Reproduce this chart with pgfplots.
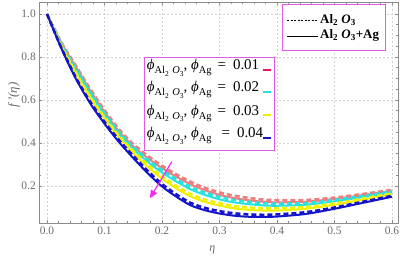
\documentclass[border=0pt]{standalone}
\usepackage{fontspec}
\setmainfont{Liberation Serif}
\usepackage{pgfplots}
\usepackage{pgfplotstable}
\pgfplotsset{compat=1.18}
\usetikzlibrary{arrows.meta}

\definecolor{cR}{RGB}{240,125,125}
\definecolor{cRm}{RGB}{230,20,100}
\definecolor{cC}{RGB}{40,225,225}
\definecolor{cY}{RGB}{240,240,0}
\definecolor{cB}{RGB}{20,20,200}
\definecolor{cM}{RGB}{225,90,225}
\definecolor{cA}{RGB}{245,40,245}
\definecolor{tgray}{RGB}{105,105,105}
\definecolor{fgray}{RGB}{140,140,140}

\pgfplotstableread{
x     r     rd    c     cd    y     yd    b     bd
0.000 1.000 1.000 1.000 1.000 1.000 1.000 1.000 1.000
0.025 0.865 0.868 0.859 0.862 0.851 0.854 0.840 0.843
0.050 0.755 0.760 0.742 0.747 0.723 0.728 0.700 0.705
0.075 0.645 0.652 0.631 0.638 0.610 0.617 0.585 0.592
0.100 0.545 0.553 0.532 0.540 0.513 0.521 0.490 0.498
0.125 0.455 0.464 0.443 0.452 0.426 0.435 0.405 0.414
0.150 0.385 0.395 0.372 0.382 0.353 0.363 0.330 0.340
0.175 0.330 0.341 0.313 0.324 0.289 0.300 0.260 0.271
0.200 0.283 0.294 0.263 0.274 0.234 0.245 0.198 0.209
0.225 0.243 0.254 0.221 0.232 0.189 0.200 0.150 0.161
0.250 0.208 0.219 0.184 0.195 0.151 0.162 0.110 0.121
0.275 0.180 0.191 0.158 0.169 0.126 0.137 0.087 0.098
0.300 0.159 0.170 0.138 0.149 0.109 0.120 0.072 0.083
0.325 0.144 0.155 0.124 0.135 0.096 0.107 0.062 0.073
0.350 0.134 0.145 0.116 0.127 0.089 0.100 0.057 0.068
0.375 0.127 0.137 0.110 0.120 0.086 0.096 0.056 0.066
0.400 0.124 0.134 0.108 0.118 0.086 0.096 0.058 0.068
0.450 0.127 0.135 0.113 0.121 0.094 0.102 0.070 0.078
0.500 0.140 0.146 0.129 0.135 0.113 0.119 0.094 0.100
0.550 0.158 0.163 0.149 0.154 0.137 0.142 0.122 0.127
0.600 0.178 0.182 0.171 0.175 0.162 0.166 0.150 0.154
}\data

\newcommand{\ssb}[1]{\raisebox{-0.25em}{\fontsize{7.5}{8}\selectfont #1}}
\newcommand{\lab}[2]{\textit{ϕ}\raisebox{-0.28em}{\fontsize{10.5}{11}\selectfont Al\ssb{2}\hspace{3.5bp}\textit{O}\ssb{3}}, \textit{ϕ}\raisebox{-0.28em}{\fontsize{10.5}{11}\selectfont Ag}\hspace{#2}=\hspace{7bp}#1}

\begin{document}
\begin{tikzpicture}
\path[use as bounding box] (-39.3bp,-35.7bp) rectangle (360.7bp,223.3bp);
\begin{axis}[
  name=ax,
  at={(0,0)}, anchor=south west,
  scale only axis, width=358.7bp, height=221.3bp,
  xmin=-0.0134, xmax=0.6104, ymin=0.0265, ymax=1.056,
  xtick={0,0.1,0.2,0.3,0.4,0.5,0.6},
  ytick={0.2,0.4,0.6,0.8,1.0},
  minor x tick num=4, minor y tick num=3,
  tick align=inside,
  major tick length=3bp, minor tick length=2bp,
  grid=major,
  grid style={dash pattern=on 2bp off 2bp, gray!35},
  axis line style={fgray, line width=0.8bp},
  tick style={fgray, line width=0.6bp},
  /pgf/number format/assume math mode=true,
  ticklabel style={font=\fontsize{11.5}{12}\selectfont, text=tgray},
  xticklabel style={/pgf/number format/.cd, fixed, fixed zerofill, precision=1},
  yticklabel style={/pgf/number format/.cd, fixed, fixed zerofill, precision=1},
  xlabel={\itshape η},
  xlabel style={font=\fontsize{12}{13}\selectfont, text=tgray, at={(axis description cs:0.4823,0)}, yshift=-19bp, anchor=north},
  ylabel={\itshape f\,'(η)},
  ylabel style={font=\fontsize{13}{14}\selectfont, text=tgray, at={(axis description cs:0,0.58)}, anchor=south, yshift=16bp},
  clip=false,
]
\addplot[cR, line width=2bp, smooth] table[x=x, y=r] {\data};
\addplot[cR, line width=2.6bp, smooth, dash pattern=on 5bp off 3bp] table[x=x, y=rd] {\data};
\addplot[cC, line width=2bp, smooth] table[x=x, y=c] {\data};
\addplot[cC, line width=2.6bp, smooth, dash pattern=on 5bp off 3bp] table[x=x, y=cd] {\data};
\addplot[cY, line width=2bp, smooth] table[x=x, y=y] {\data};
\addplot[cY, line width=2.6bp, smooth, dash pattern=on 5bp off 3bp] table[x=x, y=yd] {\data};
\addplot[cB, line width=2bp, smooth] table[x=x, y=b] {\data};
\addplot[cB, line width=2.6bp, smooth, dash pattern=on 5bp off 3bp] table[x=x, y=bd] {\data};
\draw[cA, line width=1.2bp, -{Triangle[length=8bp,width=7bp]}] (axis cs:0.217,0.313) -- (axis cs:0.179,0.143);
\end{axis}
% legend box 1
\begin{scope}[shift={(ax.south west)}]
\fill[white] (104.7bp,72.6bp) rectangle (235bp,166bp);
\draw[cM, line width=1bp] (104.7bp,72.6bp) rectangle (235bp,166bp);
\foreach \yy/\vv/\cc in {155.6/0.01/cRm, 133.3/0.02/cC, 110/0.03/cY} {
  \node[anchor=west, inner sep=0pt, font=\fontsize{15}{16}\selectfont] at (107.4bp,\yy bp) {\lab{\vv}{6bp}};
  \draw[\cc, line width=2bp] (224bp,\yy bp-2bp) -- (232bp,\yy bp-2bp);
}
\node[anchor=west, inner sep=0pt, font=\fontsize{15}{16}\selectfont] at (107.4bp,87.3bp) {\lab{0.04}{10bp}};
\draw[cB, line width=2bp] (224bp,85.3bp) -- (232bp,85.3bp);
% legend box 2
\fill[white] (243.4bp,172.6bp) rectangle (345.7bp,218.3bp);
\draw[cM, line width=1bp] (243.4bp,172.6bp) rectangle (345.7bp,218.3bp);
\draw[black, line width=0.8bp, dash pattern=on 2bp off 1.5bp] (247.7bp,202.6bp) -- (278.7bp,202.6bp);
\draw[black, line width=0.8bp] (247.7bp,186.6bp) -- (278.7bp,186.6bp);
\node[anchor=west, inner sep=0pt, font=\bfseries\fontsize{13}{14}\selectfont] at (280.7bp,203.6bp) {Al\textsubscript{2} \textit{O}\textsubscript{3}};
\node[anchor=west, inner sep=0pt, font=\bfseries\fontsize{13}{14}\selectfont] at (280.7bp,187.6bp) {Al\textsubscript{2} \textit{O}\textsubscript{3}+Ag};
\end{scope}
\end{tikzpicture}
\end{document}
